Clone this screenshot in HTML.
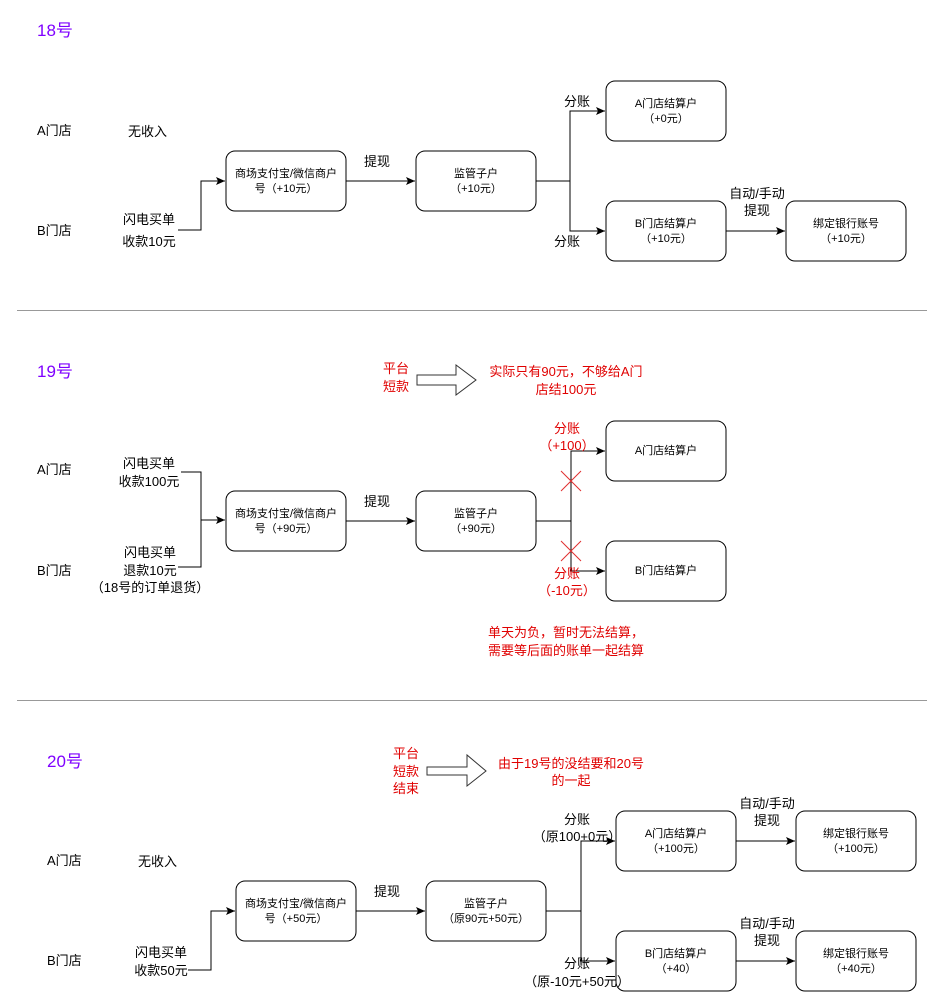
<!DOCTYPE html>
<html><head><meta charset="utf-8"><style>
html,body{margin:0;padding:0;background:#fff;}
svg{display:block;}
text{font-family:"Liberation Sans","Noto Sans CJK SC",sans-serif;fill:#000;}
.b{font-size:11px;}
.l{font-size:13px;}
.r{fill:#e00000;}
.h{font-size:17px;fill:#7f00ff;}
</style></head><body>
<svg width="944" height="1007" viewBox="0 0 944 1007" xmlns="http://www.w3.org/2000/svg">
<defs><marker id="a" markerWidth="10" markerHeight="10" refX="9" refY="5" orient="auto" markerUnits="userSpaceOnUse"><path d="M0,1 L9,5 L0,9 L2,5 Z" fill="#000"/></marker></defs>
<g fill="none" stroke="#000" stroke-width="1">
<!-- 18 -->
<rect x="226" y="151" width="120" height="60" rx="9"/>
<rect x="416" y="151" width="120" height="60" rx="9"/>
<rect x="606" y="81" width="120" height="60" rx="9"/>
<rect x="606" y="201" width="120" height="60" rx="9"/>
<rect x="786" y="201" width="120" height="60" rx="9"/>
<path d="M178,230 H201 V181 H225" marker-end="url(#a)"/>
<path d="M346,181 H415" marker-end="url(#a)"/>
<path d="M536,181 H570"/>
<path d="M570,181 V111 H605" marker-end="url(#a)"/>
<path d="M570,181 V231 H605" marker-end="url(#a)"/>
<path d="M726,231 H785" marker-end="url(#a)"/>
<!-- 19 -->
<rect x="226" y="491" width="120" height="60" rx="9"/>
<rect x="416" y="491" width="120" height="60" rx="9"/>
<rect x="606" y="421" width="120" height="60" rx="9"/>
<rect x="606" y="541" width="120" height="60" rx="9"/>
<path d="M181,472 H201 V567 H178"/>
<path d="M201,520 H225" marker-end="url(#a)"/>
<path d="M346,521 H415" marker-end="url(#a)"/>
<path d="M536,521 H571"/>
<path d="M571,521 V451 H605" marker-end="url(#a)"/>
<path d="M571,521 V571 H605" marker-end="url(#a)"/>
<path d="M417,375 H456 V365 L476,380 L456,395 V385 H417 Z" stroke="#333"/>
<!-- 20 -->
<rect x="236" y="881" width="120" height="60" rx="9"/>
<rect x="426" y="881" width="120" height="60" rx="9"/>
<rect x="616" y="811" width="120" height="60" rx="9"/>
<rect x="616" y="931" width="120" height="60" rx="9"/>
<rect x="796" y="811" width="120" height="60" rx="9"/>
<rect x="796" y="931" width="120" height="60" rx="9"/>
<path d="M188,970 H211 V911 H235" marker-end="url(#a)"/>
<path d="M356,911 H425" marker-end="url(#a)"/>
<path d="M546,911 H581"/>
<path d="M581,911 V841 H615" marker-end="url(#a)"/>
<path d="M581,911 V961 H615" marker-end="url(#a)"/>
<path d="M736,841 H795" marker-end="url(#a)"/>
<path d="M736,961 H795" marker-end="url(#a)"/>
<path d="M427,767 H467 V755 L486,771 L467,786 V775 H427 Z" stroke="#333"/>
</g>
<g stroke="#e03030" stroke-width="1">
<path d="M561,471 L581,491 M581,471 L561,491"/>
<path d="M561,541 L581,561 M581,541 L561,561"/>
</g>
<g stroke="#999" stroke-width="1">
<path d="M17,310.5 H927"/><path d="M17,700.5 H927"/>
</g>
<!-- texts 18 -->
<text class="h" x="37" y="36">18号</text>
<text class="l" x="37" y="135">A门店</text>
<text class="l" x="128" y="136">无收入</text>
<text class="l" x="37" y="235">B门店</text>
<g class="l" text-anchor="middle">
<text x="149" y="224">闪电买单</text><text x="149" y="246">收款10元</text>
<text x="377" y="166">提现</text>
<text x="577" y="106">分账</text>
<text x="567" y="246">分账</text>
<text x="757" y="198">自动/手动</text><text x="757" y="215">提现</text>
</g>
<g class="b" text-anchor="middle">
<text x="286" y="177">商场支付宝/微信商户</text><text x="286" y="192">号（+10元）</text>
<text x="476" y="177">监管子户</text><text x="476" y="192">（+10元）</text>
<text x="666" y="107">A门店结算户</text><text x="666" y="122">（+0元）</text>
<text x="666" y="227">B门店结算户</text><text x="666" y="242">（+10元）</text>
<text x="846" y="227">绑定银行账号</text><text x="846" y="242">（+10元）</text>
</g>
<!-- 19 -->
<text class="h" x="37" y="377">19号</text>
<text class="l" x="37" y="474">A门店</text>
<text class="l" x="37" y="575">B门店</text>
<g class="l" text-anchor="middle">
<text x="149" y="468">闪电买单</text><text x="149" y="486">收款100元</text>
<text x="150" y="557">闪电买单</text><text x="150" y="575">退款10元</text><text x="150" y="592">（18号的订单退货）</text>
<text x="377" y="506">提现</text>
</g>
<g class="l r" text-anchor="middle">
<text class="r" x="396" y="373">平台</text><text class="r" x="396" y="391">短款</text>
<text class="r" x="566" y="376">实际只有90元，不够给A门</text><text class="r" x="566" y="394">店结100元</text>
<text class="r" x="567" y="433">分账</text><text class="r" x="567" y="450">（+100）</text>
<text class="r" x="567" y="578">分账</text><text class="r" x="567" y="595">（-10元）</text>
<text class="r" x="566" y="637">单天为负，暂时无法结算，</text><text class="r" x="566" y="655">需要等后面的账单一起结算</text>
</g>
<g class="b" text-anchor="middle">
<text x="286" y="517">商场支付宝/微信商户</text><text x="286" y="532">号（+90元）</text>
<text x="476" y="517">监管子户</text><text x="476" y="532">（+90元）</text>
<text x="666" y="454">A门店结算户</text>
<text x="666" y="574">B门店结算户</text>
</g>
<!-- 20 -->
<text class="h" x="47" y="767">20号</text>
<text class="l" x="47" y="865">A门店</text>
<text class="l" x="138" y="866">无收入</text>
<text class="l" x="47" y="965">B门店</text>
<g class="l" text-anchor="middle">
<text x="161" y="957">闪电买单</text><text x="161" y="975">收款50元</text>
<text x="387" y="896">提现</text>
<text x="577" y="824">分账</text><text x="577" y="841">（原100+0元）</text>
<text x="577" y="968">分账</text><text x="577" y="986">（原-10元+50元）</text>
<text x="767" y="808">自动/手动</text><text x="767" y="825">提现</text>
<text x="767" y="928">自动/手动</text><text x="767" y="945">提现</text>
<text class="r" x="406" y="758">平台</text><text class="r" x="406" y="776">短款</text><text class="r" x="406" y="793">结束</text>
<text class="r" x="571" y="768">由于19号的没结要和20号</text><text class="r" x="571" y="785">的一起</text>
</g>
<g class="b" text-anchor="middle">
<text x="296" y="907">商场支付宝/微信商户</text><text x="296" y="922">号（+50元）</text>
<text x="486" y="907">监管子户</text><text x="486" y="922">（原90元+50元）</text>
<text x="676" y="837">A门店结算户</text><text x="676" y="852">（+100元）</text>
<text x="676" y="957">B门店结算户</text><text x="676" y="972">（+40）</text>
<text x="856" y="837">绑定银行账号</text><text x="856" y="852">（+100元）</text>
<text x="856" y="957">绑定银行账号</text><text x="856" y="972">（+40元）</text>
</g>
</svg>
</body></html>
